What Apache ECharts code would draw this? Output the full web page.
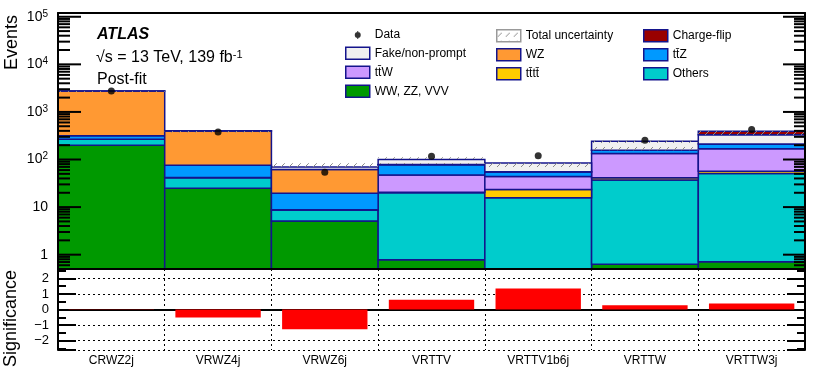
<!DOCTYPE html>
<html lang="en">
<head>
<meta charset="UTF-8" />
<title>Post-fit yields and significance per region</title>
<script src="https://cdn.jsdelivr.net/npm/echarts@6/dist/echarts.min.js"></script>
<style>
  html, body { margin: 0; padding: 0; background: #ffffff; }
  #main { width: 830px; height: 385px; }
</style>
</head>
<body>
<div id="main"></div>
<script type="text/javascript">
// regions (x categories)
var regions = ['CRWZ2j', 'VRWZ4j', 'VRWZ6j', 'VRTTV', 'VRTTV1b6j', 'VRTTW', 'VRTTW3j'];

// post-fit yields per process, bottom of the stack first
var vvOther    = [200, 24.8, 5.1, 0.78, 0.4, 0.63, 0.71];
var others     = [66, 16.7, 3.6, 19.2, 15.4, 36.4, 50.3];
var tttt       = [0.5, 0.1, 0.05, 0.5, 7.7, 4.5, 6];
var ttW        = [1.5, 0.4, 0.05, 26.5, 20.5, 92.5, 112];
var ttZ        = [48, 33.5, 10.7, 31, 10.6, 22, 43];
var wz         = [2434, 322.5, 42.5, 1, 0.4, 1, 1];
var fake       = [20, 5, 8, 21, 29, 84, 119];
var chargeFlip = [0, 0, 0, 0, 0, 0, 59];

// observed data
var dataYield = [2750, 378, 54, 117, 120, 255, 427];

// total uncertainty band (lower / upper edge)
var uncLow  = [2620, 368, 62, 80, 58, 156, 322];
var uncHigh = [2870, 420, 83, 111, 92, 254, 400];

// significance (lower panel)
var significance = [0.02, -0.52, -1.27, 0.62, 1.35, 0.28, 0.39];

var yMin = 0.5, yMax = 1.2e5;
var navy = '#14148c';
var tickColor = '#000000';
var font = 'Liberation Sans, Arial, Helvetica, sans-serif';

var chartDom = document.getElementById('main');
var myChart = echarts.init(chartDom);

// hatch pattern for the uncertainty
var hatch = document.createElement('canvas');
hatch.width = 8; hatch.height = 8;
var hctx = hatch.getContext('2d');
hctx.strokeStyle = '#8a8a8a';
hctx.lineWidth = 1;
hctx.beginPath();
hctx.moveTo(1, 7); hctx.lineTo(5, 3);
hctx.stroke();
var hatchFill = { image: hatch, repeat: 'repeat' };

var processes = [
    { name: 'WW, ZZ, VVV', values: vvOther, color: '#009900' },
    { name: 'Others', values: others, color: '#00cccc' },
    { name: 'tt\u0304tt\u0304', values: tttt, color: '#ffcc00' },
    { name: 'tt\u0304W', values: ttW, color: '#cc99ff' },
    { name: 'tt\u0304Z', values: ttZ, color: '#0099ff' },
    { name: 'WZ', values: wz, color: '#ff9933' },
    { name: 'Fake/non-prompt', values: fake, color: '#f0f0f0' },
    { name: 'Charge-flip', values: chargeFlip, color: '#990000' }
];

function renderBlock(params, api) {
    var i = api.value(0);
    var top = api.coord([i, api.value(2)]);
    var bot = api.coord([i, api.value(1)]);
    var w = api.size([1, 0])[0];
    if (bot[1] - top[1] < 0.05) return;
    return {
        type: 'rect',
        shape: { x: top[0] - w / 2, y: top[1], width: w, height: bot[1] - top[1] },
        style: { fill: api.visual('color'), stroke: navy, lineWidth: 1.5 }
    };
}

function renderBand(params, api) {
    var i = api.value(0);
    var top = api.coord([i, api.value(2)]);
    var bot = api.coord([i, api.value(1)]);
    var w = api.size([1, 0])[0];
    return {
        type: 'rect',
        shape: { x: top[0] - w / 2, y: top[1], width: w, height: bot[1] - top[1] },
        style: { fill: hatchFill, stroke: null }
    };
}

// ticks of the log axis: decades (long) and 2..9 x 10^k (short)
var logTicks = [];
for (var k = -1; k <= 5; k++) {
    for (var m = 1; m <= 9; m++) {
        var t = m * Math.pow(10, k);
        if (t > yMin && t < yMax) logTicks.push([0, t, m === 1 ? 23 : 12]);
    }
}

function renderTick(params, api) {
    var y = api.coord([0, api.value(1)])[1];
    var len = api.value(2);
    var cs = params.coordSys;
    return {
        type: 'group',
        children: [
            { type: 'line', shape: { x1: cs.x, y1: y, x2: cs.x + len, y2: y }, style: { stroke: tickColor, lineWidth: 2 } },
            { type: 'line', shape: { x1: cs.x + cs.width - len + 1, y1: y, x2: cs.x + cs.width, y2: y }, style: { stroke: tickColor, lineWidth: 2 } }
        ]
    };
}

var series = [];
var cum = regions.map(function () { return 0; });
processes.forEach(function (p) {
    var rows = regions.map(function (r, i) {
        var lo = Math.max(cum[i], yMin);
        cum[i] += p.values[i];
        var hi = Math.max(cum[i], yMin);
        return [i, lo, hi];
    });
    series.push({
        name: p.name,
        type: 'custom',
        xAxisIndex: 0,
        yAxisIndex: 0,
        renderItem: renderBlock,
        itemStyle: { color: p.color, borderColor: navy, borderWidth: 1 },
        encode: { x: 0, y: [1, 2] },
        data: rows,
        z: 2
    });
});

series.push({
    name: 'Total uncertainty',
    type: 'custom',
    xAxisIndex: 0,
    yAxisIndex: 0,
    renderItem: renderBand,
    itemStyle: { color: hatchFill, borderColor: '#999999', borderWidth: 1 },
    encode: { x: 0, y: [1, 2] },
    data: regions.map(function (r, i) { return [i, uncLow[i], uncHigh[i]]; }),
    z: 3
});

series.push({
    name: 'Data',
    type: 'scatter',
    xAxisIndex: 0,
    yAxisIndex: 0,
    symbol: 'circle',
    symbolSize: 7,
    itemStyle: { color: '#000000' },
    data: regions.map(function (r, i) { return [i, dataYield[i]]; }),
    z: 5
});

series.push({
    name: 'ticks',
    type: 'custom',
    xAxisIndex: 0,
    yAxisIndex: 0,
    renderItem: renderTick,
    encode: { x: 0, y: 1 },
    data: logTicks,
    silent: true,
    z: 20
});

series.push({
    name: 'Significance',
    type: 'bar',
    xAxisIndex: 2,
    yAxisIndex: 2,
    barWidth: '80%',
    itemStyle: { color: '#ff0000' },
    data: significance
});

function logLabel(v) {
    var l = Math.log10(v);
    var e = Math.round(l);
    if (Math.abs(l - e) > 1e-6) return '';
    if (e === 0) return '1';
    if (e === 1) return '10';
    return '10{s|' + e + '}';
}

var dataIcon = 'path://M0,0 M24,12 M9,6 A3,3 0 1 1 15,6 A3,3 0 1 1 9,6 Z M11.5,2 L12.5,2 L12.5,10 L11.5,10 Z';

var legendBase = {
    orient: 'vertical',
    top: 29,
    padding: 0,
    itemWidth: 24,
    itemHeight: 12,
    itemGap: 5.5,
    icon: 'rect',
    selectedMode: false,
    itemStyle: { borderWidth: 1.5 },
    textStyle: { fontSize: 12, color: '#000', fontFamily: font }
};

var option = {
    animation: false,
    backgroundColor: '#ffffff',
    textStyle: { fontFamily: font },
    grid: [
        { left: 58, right: 25, top: 13, height: 256, outerBoundsMode: 'none' },
        { left: 58, right: 25, top: 269, height: 81, outerBoundsMode: 'none' }
    ],
    legend: [
        Object.assign({}, legendBase, {
            left: 345,
            data: [{ name: 'Data', icon: dataIcon, itemStyle: { borderWidth: 0 } }, 'Fake/non-prompt', 'tt\u0304W', 'WW, ZZ, VVV']
        }),
        Object.assign({}, legendBase, {
            left: 496,
            data: ['Total uncertainty', 'WZ', 'tt\u0304tt\u0304']
        }),
        Object.assign({}, legendBase, {
            left: 643,
            data: ['Charge-flip', 'tt\u0304Z', 'Others']
        })
    ],
    xAxis: [
        {
            type: 'category', gridIndex: 0, data: regions, position: 'bottom', z: 10,
            axisLine: { lineStyle: { color: '#000', width: 2 } },
            axisTick: { show: false }, axisLabel: { show: false }, splitLine: { show: false }
        },
        {
            type: 'category', gridIndex: 0, data: regions, position: 'top', z: 10,
            axisLine: { lineStyle: { color: '#000', width: 2 } },
            axisTick: { show: false }, axisLabel: { show: false }, splitLine: { show: false }
        },
        {
            type: 'category', gridIndex: 1, data: regions, position: 'bottom',
            axisLine: { lineStyle: { color: '#000', width: 2 } },
            axisTick: { show: false },
            axisLabel: { fontSize: 12, color: '#000', margin: 5, fontFamily: font },
            splitLine: { show: true, lineStyle: { color: '#000', type: [2, 3], width: 1 } }
        },
        {
            type: 'category', gridIndex: 1, data: regions, position: 'top',
            axisLine: { lineStyle: { color: '#000', width: 2 } },
            axisTick: { show: false }, axisLabel: { show: false }, splitLine: { show: false }
        }
    ],
    yAxis: [
        {
            type: 'log', gridIndex: 0, logBase: 10, min: yMin, max: yMax, position: 'left', z: 10,
            axisLine: { show: true, lineStyle: { color: '#000', width: 2 } },
            axisTick: { show: false },
            axisLabel: {
                showMinLabel: false, showMaxLabel: false, margin: 10,
                fontSize: 14, color: '#000', fontFamily: font,
                formatter: logLabel,
                rich: { s: { fontSize: 10, verticalAlign: 'top', padding: [0, 0, 6, 0], fontFamily: font } }
            },
            splitLine: { show: false }
        },
        {
            type: 'log', gridIndex: 0, logBase: 10, min: yMin, max: yMax, position: 'right', z: 10,
            axisLine: { show: true, lineStyle: { color: '#000', width: 2 } },
            axisTick: { show: false },
            axisLabel: { show: false },
            splitLine: { show: false }
        },
        {
            type: 'value', gridIndex: 1, min: -2.6, max: 2.6, splitNumber: 5, position: 'left',
            axisLine: { show: true, lineStyle: { color: '#000', width: 2 } },
            axisTick: { show: true, inside: true, length: 18, lineStyle: { color: tickColor, width: 2 } },
            minorTick: { show: true, splitNumber: 2, length: 8, lineStyle: { color: tickColor, width: 2 } },
            axisLabel: {
                showMinLabel: false, showMaxLabel: false, margin: 9,
                fontSize: 13, color: '#000', fontFamily: font,
                formatter: function (v) {
                    if (Math.abs(v - Math.round(v)) > 1e-6) return '';
                    return v < 0 ? '\u2212' + (-v) : String(v);
                }
            },
            splitLine: { show: true, lineStyle: { color: '#000', type: [2, 3], width: 1 } }
        },
        {
            type: 'value', gridIndex: 1, min: -2.6, max: 2.6, splitNumber: 5, position: 'right',
            axisLine: { show: true, lineStyle: { color: '#000', width: 2 } },
            axisTick: { show: true, inside: true, length: 18, lineStyle: { color: tickColor, width: 2 } },
            minorTick: { show: true, splitNumber: 2, length: 8, lineStyle: { color: tickColor, width: 2 } },
            axisLabel: { show: false },
            splitLine: { show: false }
        }
    ],
    graphic: [
        {
            type: 'text', x: 12, y: 15, rotation: Math.PI / 2,
            style: { text: 'Events', fontSize: 18, fontFamily: font, fill: '#000', align: 'right', verticalAlign: 'middle' }
        },
        {
            type: 'text', x: 11, y: 270, rotation: Math.PI / 2,
            style: { text: 'Significance', fontSize: 18, fontFamily: font, fill: '#000', align: 'right', verticalAlign: 'middle' }
        },
        {
            type: 'text', left: 97, top: 27,
            style: { text: 'ATLAS', fontSize: 16, fontWeight: 'bold', fontStyle: 'italic', fontFamily: font, fill: '#000' }
        },
        {
            type: 'text', left: 96, top: 49,
            style: {
                text: '\u221As = 13 TeV, 139 fb{s|-1}', fontSize: 16, fontFamily: font, fill: '#000',
                rich: { s: { fontSize: 11, verticalAlign: 'top', padding: [0, 0, 6, 0], fontFamily: font } }
            }
        },
        {
            type: 'text', left: 97, top: 72,
            style: { text: 'Post-fit', fontSize: 16, fontFamily: font, fill: '#000' }
        }
    ],
    series: series
};

option && myChart.setOption(option);
</script>
</body>
</html>
